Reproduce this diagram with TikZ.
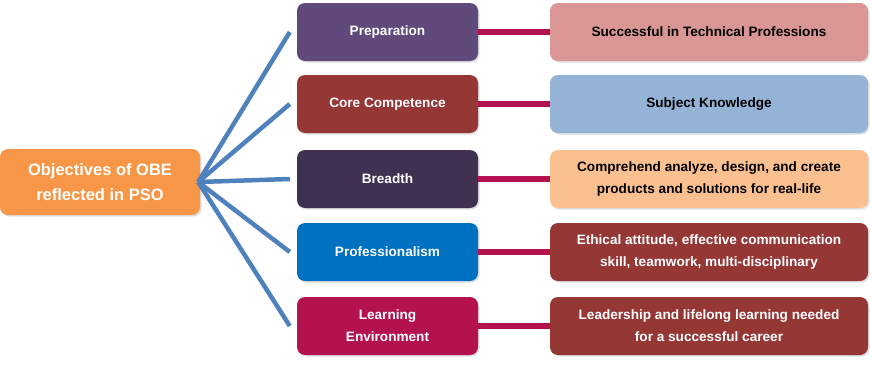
\documentclass[tikz,border=0pt]{standalone}
\usepackage{fontspec}
\setmainfont{Liberation Sans}
\usepackage{xcolor}
\usetikzlibrary{shadows}

\definecolor{obeorange}{HTML}{F79646}
\definecolor{prepviolet}{HTML}{604A7B}
\definecolor{corered}{HTML}{953735}
\definecolor{breadthplum}{HTML}{403152}
\definecolor{profblue}{HTML}{0070C0}
\definecolor{learnmag}{HTML}{B3124F}
\definecolor{succpink}{HTML}{D99694}
\definecolor{subjblue}{HTML}{95B3D7}
\definecolor{comppeach}{HTML}{FAC090}
\definecolor{spokeblue}{HTML}{4F81BD}

\begin{document}
\begin{tikzpicture}[x=1pt,y=-1pt,
  box/.style={rounded corners=8pt,text=white,font=\bfseries\fontsize{13.6}{22}\selectfont,align=center,
    drop shadow={shadow xshift=1.5pt,shadow yshift=-1.5pt,opacity=.25}},
  stagebox/.style={box,minimum width=181pt,minimum height=58pt},
  resultbox/.style={box,minimum width=318pt,minimum height=58pt},
  spoke/.style={spokeblue,line width=4.5pt},
  tie/.style={learnmag,line width=6pt}]
\useasboundingbox (0,0) rectangle (872,364);
\node[box,fill=obeorange,minimum width=200pt,minimum height=66pt,font=\bfseries\fontsize{16.5}{25}\selectfont] (obe) at (100,182) {Objectives of OBE\\reflected in PSO};
% middle column
\node[stagebox,fill=prepviolet] (prep) at (387.5,32) {Preparation};
\node[stagebox,fill=corered] (core) at (387.5,104) {Core Competence};
\node[stagebox,fill=breadthplum] (breadth) at (387.5,179) {Breadth};
\node[stagebox,fill=profblue] (prof) at (387.5,252) {Professionalism};
\node[stagebox,fill=learnmag] (learn) at (387.5,326) {Learning\\Environment};
% right column
\node[resultbox,fill=succpink,text=black] (succ) at (709,32) {Successful in Technical Professions};
\node[resultbox,fill=subjblue,text=black] (subj) at (709,104) {Subject Knowledge};
\node[resultbox,fill=comppeach,text=black] (comp) at (709,179) {Comprehend analyze, design, and create\\products and solutions for real-life};
\node[resultbox,fill=corered] (ethic) at (709,252) {Ethical attitude, effective communication\\skill, teamwork, multi-disciplinary};
\node[resultbox,fill=corered] (lead) at (709,326) {Leadership and lifelong learning needed\\for a successful career};
% spokes from the objectives box
\foreach \n in {prep,core,breadth,prof,learn}
  \draw[spoke] ([xshift=-2pt]obe.east) -- ([xshift=-7pt]\n.west);
\foreach \a/\b in {prep/succ,core/subj,breadth/comp,prof/ethic,learn/lead}
  \draw[tie] (\a.east) -- (\b.west);
\end{tikzpicture}
\end{document}
